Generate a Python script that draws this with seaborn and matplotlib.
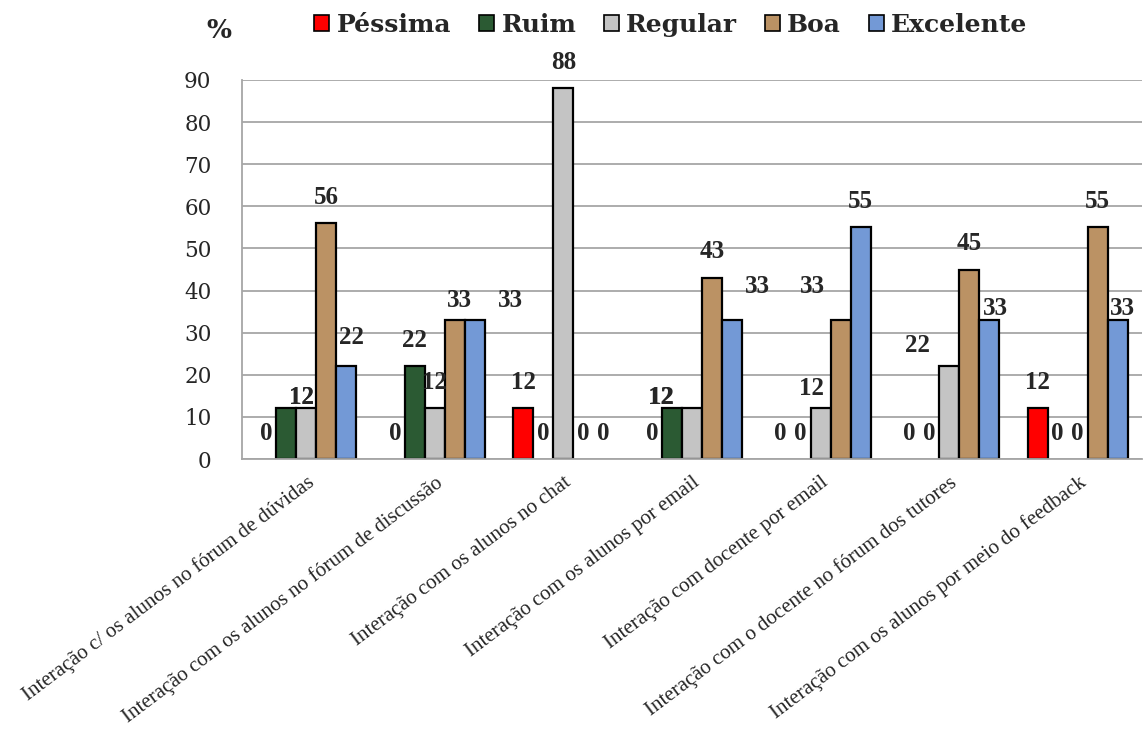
import matplotlib
matplotlib.use("Agg")
import matplotlib.pyplot as plt
from matplotlib.patches import Patch
from matplotlib.ticker import FixedLocator
import seaborn as sns
import pandas as pd
import numpy as np

categories = [
    "Interação c/ os alunos no fórum de dúvidas",
    "Interação com os alunos no fórum de discussão",
    "Interação com os alunos no chat",
    "Interação com os alunos por email",
    "Interação com docente por email",
    "Interação com o docente no fórum dos tutores",
    "Interação com os alunos por meio do feedback",
]
series = ["Péssima", "Ruim", "Regular", "Boa", "Excelente"]
pessima = [0, 0, 12, 0, 0, 0, 12]
ruim = [12, 22, 0, 12, 0, 0, 0]
regular = [12, 12, 88, 12, 12, 22, 0]
boa = [56, 33, 0, 43, 33, 45, 55]
excelente = [22, 33, 0, 33, 55, 33, 33]
yticks = [0, 10, 20, 30, 40, 50, 60, 70, 80, 90]

colors = {"Péssima": "#ff0000", "Ruim": "#2b5a33", "Regular": "#c4c4c4",
          "Boa": "#bb9264", "Excelente": "#7399d6"}

# manual label nudges (pixels) mimicking the hand-placed labels of the original
nudges = {
    (0, "Ruim"): (15, -15), (0, "Regular"): (-5, -15), (0, "Excelente"): (5, 3),
    (1, "Boa"): (5, -6), (1, "Excelente"): (36, -6),
    (3, "Ruim"): (-11, -15), (3, "Regular"): (-31, -15), (3, "Excelente"): (25, 8),
    (4, "Regular"): (-9, -6), (4, "Boa"): (-28, 8),
    (5, "Regular"): (-32, -5), (5, "Excelente"): (6, -14),
    (6, "Excelente"): (5, -14),
}

values = {"Péssima": pessima, "Ruim": ruim, "Regular": regular,
          "Boa": boa, "Excelente": excelente}
rows = []
for s in series:
    for c, v in zip(categories, values[s]):
        rows.append({"cat": c, "serie": s, "val": v})
df = pd.DataFrame(rows)

sns.set_style("white")
fig = plt.figure(figsize=(11.46, 7.36), dpi=100)
ax = fig.add_axes([242 / 1146, 1 - 459 / 736, 900 / 1146, (459 - 80) / 736])

sns.barplot(data=df, x="cat", y="val", hue="serie", order=categories,
            hue_order=series, palette=colors, width=100 / 128.6, gap=0,
            edgecolor="black", linewidth=1.6, legend=False, ax=ax,
            errorbar=None, saturation=1)

ax.set_ylim(0, 90)
ax.set_xlim(-0.5, len(categories) - 0.5)
ax.set_yticks(yticks)
ax.set_yticklabels([str(t) for t in yticks], family="DejaVu Serif", fontsize=15.5)
ax.set_xlabel("")
ax.set_ylabel("")
ax.yaxis.grid(True, color="#a6a6a6", linewidth=1.3)
ax.set_axisbelow(True)
for sp in ["top", "right"]:
    ax.spines[sp].set_visible(False)
for sp in ["left", "bottom"]:
    ax.spines[sp].set_color("#a6a6a6")
    ax.spines[sp].set_linewidth(1.3)
ax.tick_params(axis="y", length=8, color="#a6a6a6", width=1.3, pad=14)
ax.xaxis.set_minor_locator(FixedLocator(np.arange(-0.5, len(categories), 1.0)))
ax.tick_params(axis="x", which="minor", length=7, color="#a6a6a6", width=1.3)
ax.tick_params(axis="x", which="major", length=0, pad=10)
ax.set_xticks(range(len(categories)))
ax.set_xticklabels(categories, rotation=37, ha="right", va="top",
                   rotation_mode="anchor", family="Liberation Serif", fontsize=15)

for s, cont in zip(series, ax.containers):
    for i, p in enumerate(cont.patches):
        h = p.get_height()
        if h == 0:
            p.set_linewidth(0)
        xc = p.get_x() + p.get_width() / 2
        dx, dy = nudges.get((i, s), (0, 0))
        ax.annotate(f"{int(round(h))}", (xc, h), xytext=(dx, 26 + dy),
                    textcoords="offset pixels", ha="center", va="center",
                    family="Liberation Serif", fontweight="bold", fontsize=18,
                    annotation_clip=False)

handles = [Patch(facecolor=colors[s], edgecolor="black", linewidth=1.2, label=s)
           for s in series]
leg = fig.legend(handles=handles, ncol=5, loc="center",
                 bbox_to_anchor=(671 / 1146, 1 - 25 / 736), frameon=False,
                 prop={"family": "DejaVu Serif", "weight": "bold", "size": 18},
                 handlelength=0.6, handleheight=0.6, handletextpad=0.3,
                 columnspacing=1.1, borderaxespad=0)

fig.text(219 / 1146, 1 - 30 / 736, "%", ha="center", va="center",
         family="DejaVu Serif", fontweight="bold", fontsize=19)

fig.savefig("out.png", dpi=100)
